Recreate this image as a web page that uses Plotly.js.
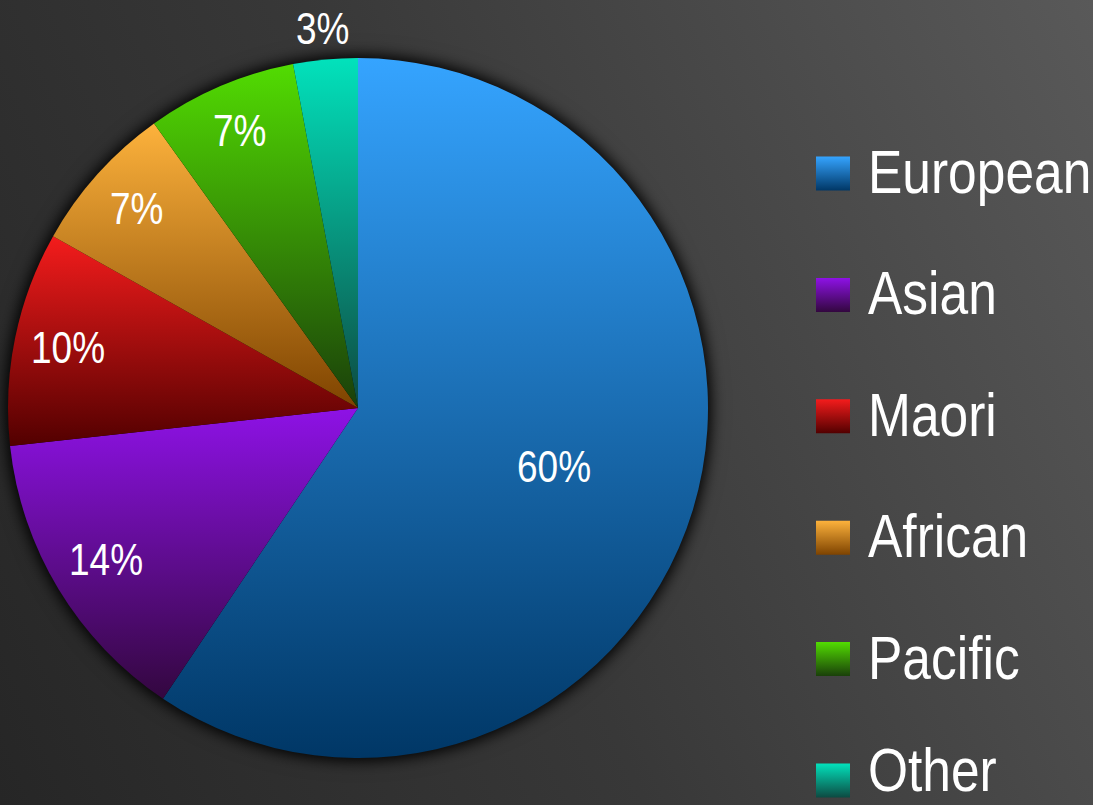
<!DOCTYPE html>
<html><head><meta charset="utf-8">
<script src="https://cdn.plot.ly/plotly-3.0.1.min.js"></script>
<style>
html,body{margin:0;padding:0;width:1093px;height:805px;overflow:hidden;
background:linear-gradient(67deg,#262626 0%,#383838 45%,#595959 100%);}
#chart{width:1093px;height:805px;}
#chart .pielayer .trace{filter:drop-shadow(0 0 8px rgba(0,0,0,0.9)) drop-shadow(0 0 6px rgba(0,0,0,0.6));}
/* emulate the tall, narrow typeface of the original: stretch glyphs vertically */
#chart .annotation-text{transform-box:fill-box;transform-origin:50% 50%;transform:scaleY(1.185);}
</style></head><body><div id="chart"></div>
<script>
// ---- data ----
const categories = ['European', 'Asian', 'Maori', 'African', 'Pacific', 'Other'];
const values = [60, 14, 10, 7, 7, 3];
const colorsTop = ['#35a4ff', '#8e12e6', '#f41c1c', '#fdb23c', '#52dc02', '#02e2bc'];
const colorsBottom = ['#003766', '#33073f', '#520000', '#7e4300', '#1a3f0a', '#0d4a42'];
const colorsMid = ['#0f6fc4', '#6a0ca8', '#b00a0a', '#e08a10', '#3a8c05', '#0a9f87'];

// ---- layout settings ----
const labelRadius = [0.585, 0.84, 0.845, 0.85, 0.86, 1.085]; // label distance as fraction of radius
const FONT = '"Liberation Sans Narrow", "Arial Narrow", "Liberation Sans", Arial, sans-serif';
const W = 1093, H = 805;
const pieLeft = 8, pieRight = 708, pieTop = 58, pieBottom = 758;
const cx = (pieLeft + pieRight) / 2, cy = (pieTop + pieBottom) / 2, R = (pieRight - pieLeft) / 2;

const trace = {
  type: 'pie',
  labels: categories,
  values: values,
  sort: false,
  direction: 'clockwise',
  rotation: 0,
  marker: {colors: colorsMid, line: {width: 0}},
  textinfo: 'none',
  hoverinfo: 'label+value',
  showlegend: false,
  domain: {x: [pieLeft / W, pieRight / W], y: [1 - pieBottom / H, 1 - pieTop / H]}
};

const shapes = [], annotations = [];

// percentage labels placed along each slice's mid-angle
const total = values.reduce((a, b) => a + b, 0);
let cum = 0;
values.forEach((v, i) => {
  const mid = (cum + v / 2) / total * 2 * Math.PI;
  cum += v;
  const px = cx + R * labelRadius[i] * Math.sin(mid);
  const py = cy - R * labelRadius[i] * Math.cos(mid);
  annotations.push({
    xref: 'paper', yref: 'paper', x: px / W, y: 1 - py / H,
    xanchor: 'center', yanchor: 'middle', showarrow: false,
    text: v + '%', font: {family: FONT, size: 37, color: '#ffffff'}
  });
});

// legend built from categories and colours
const legendX0 = 816, legendSize = 34, legendTextX = 866;
const legendY0 = 173.5, legendStep = 121.4;
categories.forEach((c, i) => {
  const yc = legendY0 + i * legendStep;
  shapes.push({
    type: 'rect', xref: 'paper', yref: 'paper',
    x0: legendX0 / W, x1: (legendX0 + legendSize) / W,
    y0: 1 - (yc + legendSize / 2) / H, y1: 1 - (yc - legendSize / 2) / H,
    fillcolor: colorsMid[i], line: {width: 0}
  });
  const last = i === categories.length - 1;
  annotations.push({
    xref: 'paper', yref: 'paper', x: legendTextX / W, y: 1 - (yc - (last ? 10.5 : 1.5)) / H,
    xanchor: 'left', yanchor: 'middle', align: 'left', showarrow: false, text: c,
    font: {family: FONT, size: 51.5, color: '#ffffff'}
  });
});

const layout = {
  width: W, height: H,
  margin: {l: 0, r: 0, t: 0, b: 0},
  paper_bgcolor: 'rgba(0,0,0,0)',
  plot_bgcolor: 'rgba(0,0,0,0)',
  showlegend: false,
  shapes: shapes,
  annotations: annotations
};

const NS = 'http://www.w3.org/2000/svg';
function addGradients() {
  const svg = document.querySelector('#chart .main-svg');
  let defs = svg.querySelector('defs');
  if (!defs) { defs = document.createElementNS(NS, 'defs'); svg.insertBefore(defs, svg.firstChild); }
  categories.forEach((c, i) => {
    const g = document.createElementNS(NS, 'linearGradient');
    g.setAttribute('id', 'sliceGrad' + i);
    g.setAttribute('x1', '0'); g.setAttribute('y1', '0');
    g.setAttribute('x2', '0'); g.setAttribute('y2', '1');
    const s1 = document.createElementNS(NS, 'stop');
    s1.setAttribute('offset', '0'); s1.setAttribute('stop-color', colorsTop[i]);
    const s2 = document.createElementNS(NS, 'stop');
    s2.setAttribute('offset', '1'); s2.setAttribute('stop-color', colorsBottom[i]);
    g.appendChild(s1); g.appendChild(s2);
    defs.appendChild(g);
  });
  document.querySelectorAll('#chart .pielayer .slice path.surface').forEach((p, i) => {
    p.style.fill = 'url(#sliceGrad' + i + ')';
  });
  document.querySelectorAll('#chart .shapelayer path').forEach((p, i) => {
    p.style.fill = 'url(#sliceGrad' + i + ')';
  });
}

Plotly.newPlot('chart', [trace], layout, {displayModeBar: false, staticPlot: true}).then(addGradients);
</script>
</body></html>
